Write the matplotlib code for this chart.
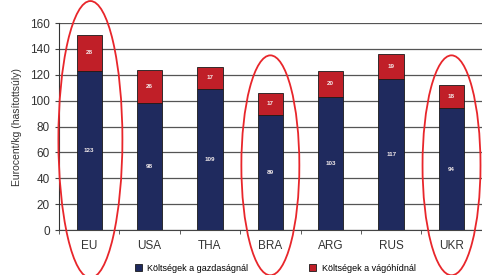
import numpy as np
import matplotlib
matplotlib.use('Agg')
import matplotlib.pyplot as plt
from matplotlib.patches import Ellipse

# Data
countries = ['EU', 'USA', 'THA', 'BRA', 'ARG', 'RUS', 'UKR']
farm_costs = [123, 98, 109, 89, 103, 117, 94]
slaughter_costs = [28, 26, 17, 17, 20, 19, 18]
highlighted = ['EU', 'BRA', 'UKR']
series_labels = ['Költségek a gazdaságnál', 'Költségek a vágóhídnál']
y_ticks = [0, 20, 40, 60, 80, 100, 120, 140, 160]

plt.rcParams['font.family'] = ['Liberation Sans', 'DejaVu Sans']

navy = '#1f2a5e'
red = '#c01f28'

fig = plt.figure(figsize=(4.82, 2.75), dpi=100)
ax = fig.add_axes([0.1224, 0.1636, 0.877, 0.7527])

x = np.arange(len(countries))
bw = 0.42
b1 = ax.bar(x, farm_costs, bw, color=navy, edgecolor='#1a1a1a', linewidth=0.6,
            label=series_labels[0], zorder=3)
b2 = ax.bar(x, slaughter_costs, bw, bottom=farm_costs, color=red, edgecolor='#1a1a1a',
            linewidth=0.6, label=series_labels[1], zorder=3)

# value labels
for i in range(len(countries)):
    ax.text(x[i], farm_costs[i] / 2, str(farm_costs[i]), color='#f4ecec',
            fontsize=4.5, fontweight='bold', ha='center', va='center', zorder=4)
    ax.text(x[i], farm_costs[i] + slaughter_costs[i] / 2, str(slaughter_costs[i]),
            color='#f4ecec', fontsize=4.5, fontweight='bold', ha='center', va='center', zorder=4)

ax.set_xlim(-0.5, len(countries) - 0.5)
ax.set_ylim(0, 160)
ax.set_yticks(y_ticks)
ax.set_xticks(x)
ax.set_xticklabels(countries)
ax.set_xticks(np.arange(len(countries) + 1) - 0.5, minor=True)
ax.tick_params(axis='x', which='major', length=0, pad=7, labelsize=8.5, colors='#333333')
ax.tick_params(axis='x', which='minor', length=3, color='#444444')
ax.tick_params(axis='y', length=3, labelsize=8.5, colors='#333333', color='#444444')
ax.grid(axis='y', color='#555555', linewidth=0.9, zorder=0)
for s in ['top', 'right']:
    ax.spines[s].set_visible(False)
ax.spines['left'].set_color('#333333')
ax.spines['bottom'].set_color('#444444')
ax.set_ylabel('Eurocent/kg (hasítottsúly)', fontsize=7.5, color='#333333', labelpad=6)

# red ellipses around highlighted countries
for c in highlighted:
    i = countries.index(c)
    if c == 'EU':
        e = Ellipse((i + 0.02, 70), 1.06, 214)
    else:
        e = Ellipse((i, 50), 0.96, 170)
    e.set_facecolor('none')
    e.set_edgecolor('#e8262b')
    e.set_linewidth(1.3)
    e.set_clip_on(False)
    e.set_zorder(5)
    ax.add_patch(e)

fig.legend(handles=[b1, b2], labels=series_labels, loc='center',
           bbox_to_anchor=(0.571, 0.025), ncol=2, frameon=False, fontsize=6.5,
           handlelength=0.75, handleheight=0.75, handletextpad=0.6, columnspacing=6.8)

fig.savefig('out.png', dpi=100)
